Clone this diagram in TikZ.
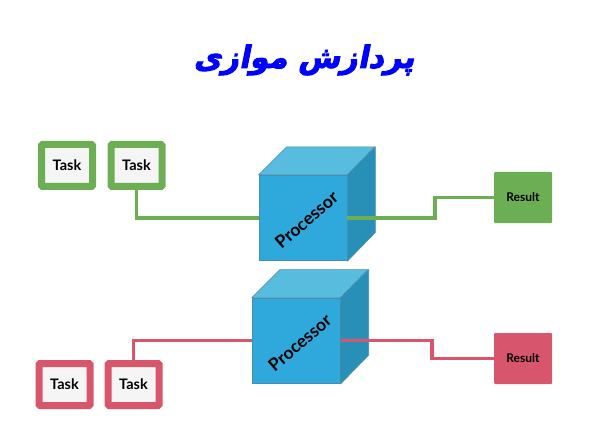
\documentclass[tikz,border=0pt]{standalone}
\usepackage{fontspec}
\usetikzlibrary{calc}
\setsansfont{Lato}
\TeXXeTstate=1
\newfontfamily\arabicfont[Script=Arabic,FakeSlant=0.2,FakeBold=3]{DejaVu Sans Bold}
\definecolor{grn}{HTML}{6CAE54}
\definecolor{redc}{HTML}{D8566B}
\definecolor{front}{HTML}{2FA9DC}
\definecolor{topf}{HTML}{57BCDE}
\definecolor{side}{HTML}{2890B6}
\definecolor{edge}{HTML}{4A8BAE}
\definecolor{paper}{HTML}{F5F5F5}
\tikzset{
  taskbox/.style={draw=#1,fill=paper,line width=7pt,rounded corners=1pt,minimum width=51pt,minimum height=42pt,inner sep=0pt,font=\sffamily\bfseries\fontsize{14.5}{14.5}\selectfont},
  resultbox/.style={fill=#1,minimum width=58pt,minimum height=51pt,inner sep=0pt,rounded corners=1pt,font=\sffamily\bfseries\fontsize{12}{12}\selectfont},
  frontface/.style={draw=edge,line width=.8pt,fill=front,minimum width=88pt,minimum height=85.5pt,inner sep=0pt},
  cubetext/.style={rotate=41,inner sep=0pt,font=\sffamily\bfseries\fontsize{17.5}{17.5}\selectfont},
  topface/.style={draw=edge,line width=.6pt,fill=topf},
  sideface/.style={draw=edge,line width=.6pt,fill=side},
  wire/.style={draw=#1,line width=3.2pt}
}
\begin{document}
\begin{tikzpicture}[x=1pt,y=-1pt]
\useasboundingbox (0,0) rectangle (600,425);
\node[text=blue] (title) at (304,60) {\arabicfont\fontsize{30.5}{30.5}\selectfont\beginR پردازش موازی\endR};
% green group
\node[taskbox=grn] (t1) at (67,165.5) {Task};
\node[taskbox=grn] (t2) at (136.5,165.5) {Task};
\node[frontface] (c1) at (303,218) {};
\node[cubetext] (p1) at (306.5,220) {Processor};
\fill[topface] (c1.north west) -- ++(28,-28) -- ++(88,0) -- (c1.north east) -- cycle;
\fill[sideface] (c1.north east) -- ++(28,-28) -- ++(0,85.5) -- (c1.south east) -- cycle;
\node[resultbox=grn] (r1) at (523,197.5) {Result};
\coordinate (b1) at (435,197.5);
\draw[wire=grn] (t2.south) |- (c1.west);
\draw[wire=grn] (c1.east) -| (b1) -- (r1.west);
% red group
\node[taskbox=redc] (t3) at (64.5,384.5) {Task};
\node[taskbox=redc] (t4) at (133.5,384.5) {Task};
\node[frontface] (c2) at (296.3,340.7) {};
\node[cubetext] (p2) at (299.8,342.7) {Processor};
\fill[topface] (c2.north west) -- ++(28,-28) -- ++(88,0) -- (c2.north east) -- cycle;
\fill[sideface] (c2.north east) -- ++(28,-28) -- ++(0,85.5) -- (c2.south east) -- cycle;
\node[resultbox=redc] (r2) at (523,358.5) {Result};
\coordinate (b2) at (432,358.5);
\draw[wire=redc] (t4.north) |- (c2.west);
\draw[wire=redc] (c2.east) -| (b2) -- (r2.west);
\end{tikzpicture}
\end{document}
